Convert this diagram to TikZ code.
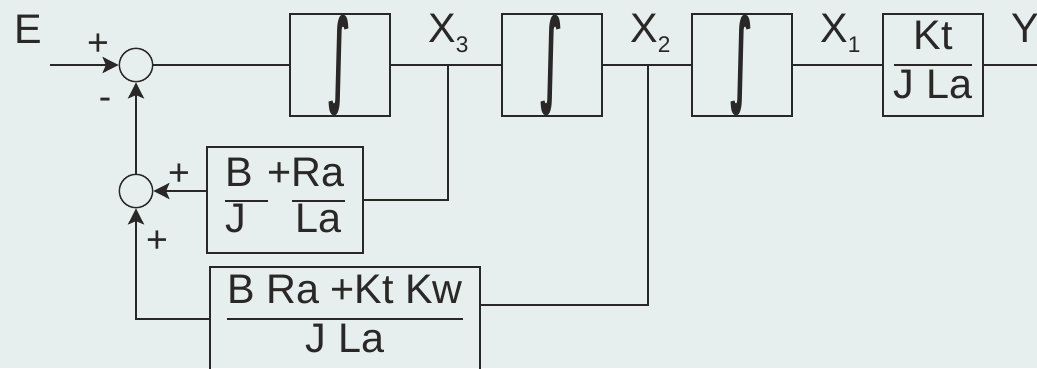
\documentclass[tikz,border=0pt]{standalone}
\usepackage{fontspec}
\setmainfont{Liberation Sans}
\newfontfamily\symfont{DejaVu Sans}
\usetikzlibrary{arrows.meta,positioning,calc}
\definecolor{diagbg}{HTML}{E6EEEE}
\definecolor{ink}{HTML}{2A2826}
\setlength{\arrayrulewidth}{1.7pt}
\newcommand{\intsign}{\resizebox{17pt}{58pt}{\symfont\bfseries ∫}}
\tikzset{
  blockbox/.style={draw=ink, line width=1.8pt, minimum width=75pt, minimum height=76.5pt,
                   inner sep=0pt, text=ink, font=\fontsize{31}{35}\selectfont},
  sumnode/.style={circle, draw=ink, line width=1.1pt, minimum size=25pt, inner sep=0pt},
  sig/.style={line width=1.8pt, draw=ink},
  sarr/.style={sig, -{Stealth[length=12pt,width=12pt,inset=2.5pt]}},
  sgn/.style={text=ink, font=\fontsize{28}{30}\selectfont, inner sep=0pt},
  lbl/.style={text=ink, font=\fontsize{31}{35}\selectfont, inner sep=0pt, anchor=base west}}
\newcommand{\sub}[1]{\raisebox{-8pt}{\fontsize{17}{19}\selectfont #1}}

\begin{document}
\begin{tikzpicture}[x=0.75pt, y=-0.75pt]
  \fill[diagbg] (0,0) rectangle (1037,368);
  \useasboundingbox (0,0) rectangle (1037,368);
  \clip (0,0) rectangle (1037,368);

  \node[lbl] (elbl) at (14,43) {E};
  \coordinate (ein) at (50,65);
  \node[sumnode] (s1) at (136,65) {};
  \node[blockbox] (int1) at (340,65) {\intsign};
  \node[blockbox] (int2) at (552,65) {\intsign};
  \node[blockbox] (int3) at (742,65) {\intsign};
  \node[blockbox] (gain) at (933,65)
    {\begin{tabular}{@{}c@{}}Kt\\\hline J La\end{tabular}};
  \coordinate (yout) at (1040,65);

  \coordinate (x3) at (448,65);
  \coordinate (x2) at (648,65);
  \node[lbl] (x3lbl) at (428,42) {X\sub{3}};
  \node[lbl] (x2lbl) at (630,42) {X\sub{2}};
  \node[lbl] (x1lbl) at (820,42) {X\sub{1}};
  \node[lbl] (ylbl) at (1011,42) {Y};

  \node[sumnode] (s2) at (136,191) {};
  \node[blockbox, minimum width=117pt, minimum height=79.5pt] (fb1) at (285,200)
    {\begin{tabular}{@{}l@{\hspace{11pt}}r@{}c@{}}B&+&Ra\\\cline{1-1}\cline{3-3}J&&La\end{tabular}};
  \node[blockbox, minimum width=202.5pt, minimum height=78pt] (fb2) at (345,319)
    {\begin{tabular}{@{}c@{}}B Ra +Kt Kw\\\hline J La\end{tabular}};

  \node[sgn] (p1) at (98,45) {+};
  \node[sgn] (m1) at (105,104) {-};
  \node[sgn] (p2) at (179,175) {+};
  \node[sgn] (p3) at (157,242) {+};

  \draw[sarr] (ein) -- (s1);
  \draw[sig] (s1) -- (int1);
  \draw[sig] (int1) -- (int2);
  \draw[sig] (int2) -- (int3);
  \draw[sig] (int3) -- (gain);
  \draw[sig] (gain) -- (yout);
  \draw[sig] (x3) |- (fb1.east);
  \draw[sig] (x2) |- ($(fb2.east)+(0,-14)$);
  \draw[sarr] (fb1.west |- s2) -- (s2);
  \draw[sarr] (fb2.west) -| (s2);
  \draw[sarr] (s2) -- (s1);
\end{tikzpicture}
\end{document}
